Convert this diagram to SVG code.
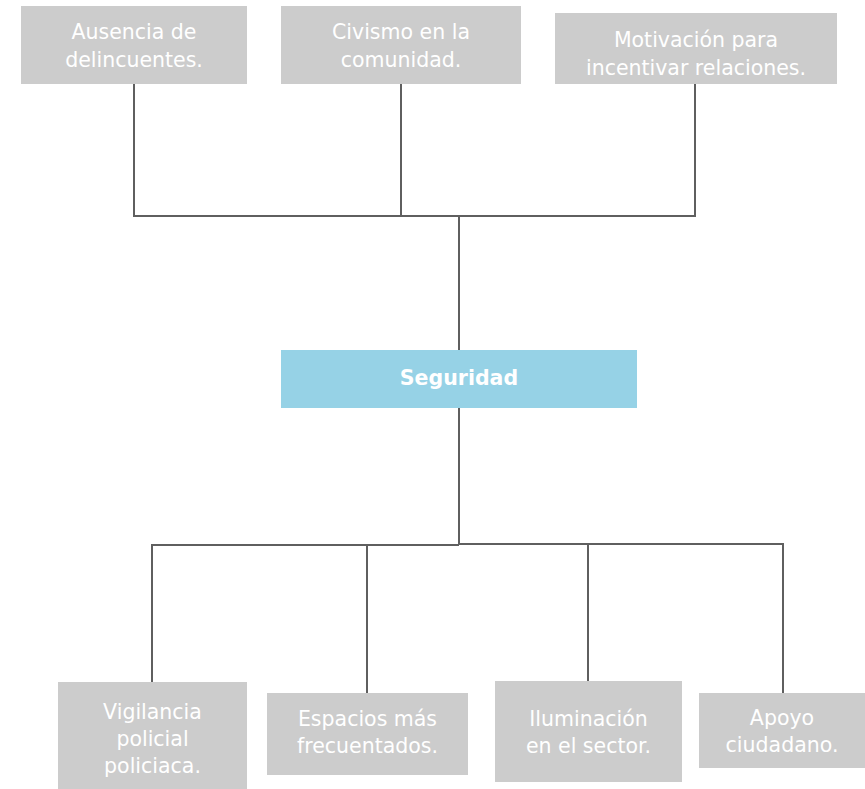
<svg xmlns="http://www.w3.org/2000/svg" width="865" height="789" viewBox="0 0 865 789">
<style>
.box{fill:#cccccc}
.main{fill:#96d2e6}
.t{font-family:"DejaVu Sans","Liberation Sans",sans-serif;font-size:20.5px;fill:#ffffff;text-anchor:middle}
.tb{font-family:"DejaVu Sans","Liberation Sans",sans-serif;font-size:20.5px;fill:#ffffff;text-anchor:middle;font-weight:bold}
.c{fill:none;stroke:#5f5f5f;stroke-width:2}
</style>
<rect width="865" height="789" fill="#ffffff"/>
<g id="connectors">
<polyline class="c" points="134,84 134,216 695,216 695,84"/>
<line class="c" x1="401" y1="84" x2="401" y2="216"/>
<line class="c" x1="459" y1="216" x2="459" y2="350"/>
<line class="c" x1="459" y1="408" x2="459" y2="545"/>
<polyline class="c" points="152,682 152,545 459,545"/>
<polyline class="c" points="459,544 783,544 783,693"/>
<line class="c" x1="367" y1="545" x2="367" y2="693"/>
<line class="c" x1="588" y1="544" x2="588" y2="681"/>
</g>
<g id="n1">
<rect class="box" x="21" y="6" width="226" height="78"/>
<text class="t" x="134" y="39">Ausencia de</text>
<text class="t" x="134" y="67">delincuentes.</text>
</g>
<g id="n2">
<rect class="box" x="281" y="6" width="240" height="78"/>
<text class="t" x="401" y="39">Civismo en la</text>
<text class="t" x="401" y="67">comunidad.</text>
</g>
<g id="n3">
<rect class="box" x="555" y="13" width="282" height="71"/>
<text class="t" x="696" y="47">Motivación para</text>
<text class="t" x="696" y="75">incentivar relaciones.</text>
</g>
<g id="seguridad">
<rect class="main" x="281" y="350" width="356" height="58"/>
<text class="tb" x="459" y="385">Seguridad</text>
</g>
<g id="n4">
<rect class="box" x="58" y="682" width="189" height="107"/>
<text class="t" x="152.5" y="719">Vigilancia</text>
<text class="t" x="152.5" y="746">policial</text>
<text class="t" x="152.5" y="773">policiaca.</text>
</g>
<g id="n5">
<rect class="box" x="267" y="693" width="201" height="82"/>
<text class="t" x="367.5" y="726">Espacios más</text>
<text class="t" x="367.5" y="753">frecuentados.</text>
</g>
<g id="n6">
<rect class="box" x="495" y="681" width="187" height="101"/>
<text class="t" x="588.5" y="726">Iluminación</text>
<text class="t" x="588.5" y="753">en el sector.</text>
</g>
<g id="n7">
<rect class="box" x="699" y="693" width="166" height="75"/>
<text class="t" x="782" y="725">Apoyo</text>
<text class="t" x="782" y="752">ciudadano.</text>
</g>
</svg>
